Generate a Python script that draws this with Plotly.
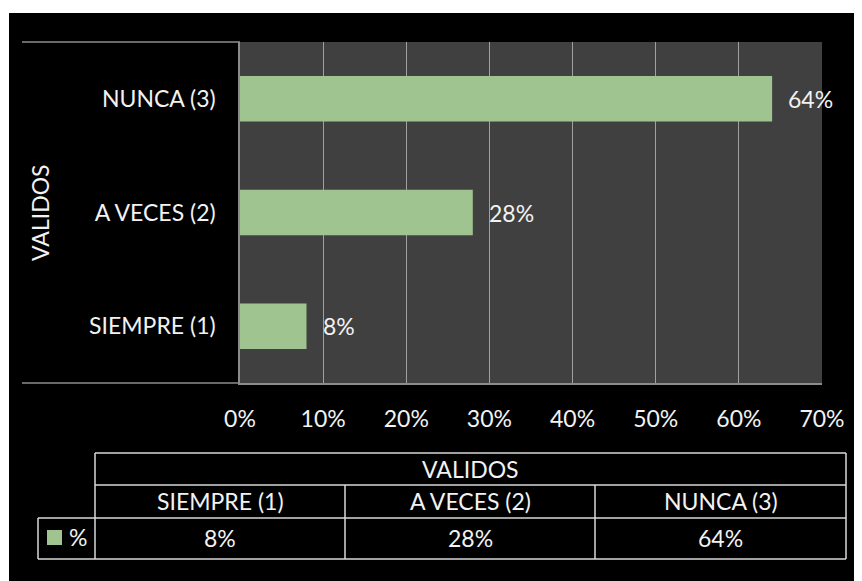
import plotly.graph_objects as go

categories = ["SIEMPRE (1)", "A VECES (2)", "NUNCA (3)"]
values = [8, 28, 64]
value_labels = ["8%", "28%", "64%"]
group_label = "VALIDOS"
series_name = "%"
x_ticks = [0, 10, 20, 30, 40, 50, 60, 70]
x_tick_labels = ["0%", "10%", "20%", "30%", "40%", "50%", "60%", "70%"]

OFF = 8  # page body margin
W, H = 862 - OFF, 581 - OFF
L, T = 240 - OFF, 42 - OFF
R = W - (822 - OFF)
B = H - (383 - OFF)
PW, PH = W - L - R, H - T - B
FONT = "Lato"
FS = 23
GREEN = "#a0c48f"
WHITE = "#f2f2f2"

def px(x):  # screen px -> paper x
    return (x - OFF - L) / PW

def py(y):  # screen px -> paper y
    return (H - B - (y - OFF)) / PH

fig = go.Figure()
fig.add_trace(go.Bar(
    y=categories, x=values, orientation="h",
    marker=dict(color=GREEN, line=dict(width=0)),
    name=series_name, showlegend=False, hoverinfo="skip",
))

shapes = []
ann = []

# white strips at top / left of the image
shapes.append(dict(type="rect", xref="paper", yref="paper", x0=px(0), x1=px(862), y0=py(0), y1=py(13),
                   fillcolor="white", line=dict(width=0), layer="below"))
shapes.append(dict(type="rect", xref="paper", yref="paper", x0=px(0), x1=px(9), y0=py(0), y1=py(581),
                   fillcolor="white", line=dict(width=0), layer="below"))

# category axis box lines
for yy in (42, 383):
    shapes.append(dict(type="line", xref="paper", yref="paper", x0=px(22), x1=px(240), y0=py(yy), y1=py(yy),
                       line=dict(color="#8c8c8c", width=1.5)))

# data labels
for c, v, t in zip(categories, values, value_labels):
    ann.append(dict(x=v, y=c, xref="x", yref="y", text=t, showarrow=False, xanchor="left", yanchor="middle",
                    xshift=14, font=dict(family=FONT, size=FS, color=WHITE)))

# axis group title
ann.append(dict(x=px(40), y=py(213), xref="paper", yref="paper", text=group_label, textangle=-90,
                showarrow=False, xanchor="center", yanchor="middle",
                font=dict(family=FONT, size=FS, color=WHITE)))

# data table
tl = dict(color="#d9d9d9", width=1.5)
cols = [95, 345, 595, 846]
def hline(x0, x1, y):
    shapes.append(dict(type="line", xref="paper", yref="paper", x0=px(x0), x1=px(x1), y0=py(y), y1=py(y), line=tl))
def vline(x, y0, y1):
    shapes.append(dict(type="line", xref="paper", yref="paper", x0=px(x), x1=px(x), y0=py(y0), y1=py(y1), line=tl))

hline(95, 846, 453)
hline(95, 846, 485)
hline(38, 846, 518)
hline(38, 846, 559)
vline(95, 453, 559)
vline(846, 453, 559)
vline(345, 485, 559)
vline(595, 485, 559)
vline(38, 518, 559)

def cell_text(x, y, text, anchor="center"):
    ann.append(dict(x=px(x), y=py(y), xref="paper", yref="paper", text=text, showarrow=False,
                    xanchor=anchor, yanchor="middle", font=dict(family=FONT, size=FS, color=WHITE)))

cell_text((95 + 846) / 2, 469, group_label)
for i, (c, t) in enumerate(zip(categories, value_labels)):
    cx = (cols[i] + cols[i + 1]) / 2
    cell_text(cx, 501, c)
    cell_text(cx, 538, t)

# legend key
shapes.append(dict(type="rect", xref="paper", yref="paper", x0=px(47), x1=px(62), y0=py(545), y1=py(530),
                   fillcolor=GREEN, line=dict(width=0)))
cell_text(67, 537, series_name, anchor="left")

fig.update_layout(
    width=W, height=H,
    margin=dict(l=L, r=R, t=T, b=B, autoexpand=False),
    paper_bgcolor="black", plot_bgcolor="#404040",
    bargap=0.6,
    shapes=shapes, annotations=ann,
    font=dict(family=FONT, size=FS, color=WHITE),
    xaxis=dict(range=[0, 70], tickvals=x_ticks, ticktext=x_tick_labels, showgrid=True,
               gridcolor="#a0a0a0", gridwidth=1, zeroline=False,
               showline=True, linecolor="#8c8c8c", linewidth=1.5,
               ticks="", ticklabelstandoff=15, fixedrange=True,
               tickfont=dict(family=FONT, size=FS, color=WHITE)),
    yaxis=dict(categoryorder="array", categoryarray=categories, showgrid=False,
               showline=True, linecolor="#8c8c8c", linewidth=1.5, ticks="",
               ticklabelstandoff=18, zeroline=False,
               tickfont=dict(family=FONT, size=FS, color=WHITE)),
)

fig.write_html("out.html")
